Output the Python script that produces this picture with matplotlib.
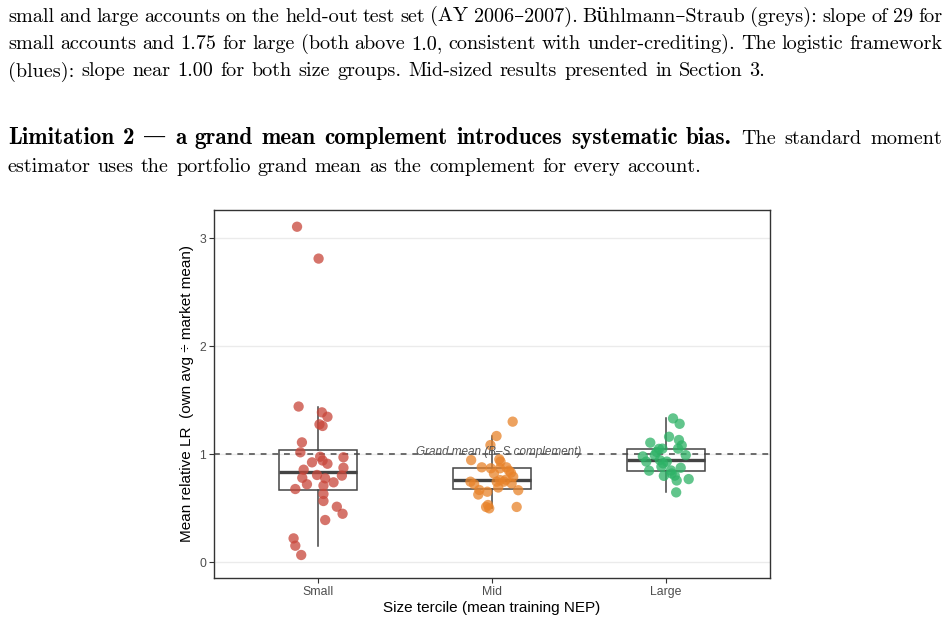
import matplotlib
matplotlib.use("Agg")
import numpy as np
import matplotlib.pyplot as plt
from matplotlib.transforms import IdentityTransform

W, H = 949, 625

# --- data ----------------------------------------------------------------
groups = ["Small", "Mid", "Large"]

small_lr = [1.44, 1.386, 1.345, 1.275, 1.26, 1.108, 1.016, 0.975, 0.97, 0.94,
            0.923, 0.91, 0.873, 0.855, 0.806, 0.80, 0.78, 0.775, 0.738, 0.72,
            0.707, 0.676, 0.63, 0.565, 0.512, 0.447, 0.389, 0.219, 0.151, 0.065,
            3.105, 2.81]
small_jit = [-0.113, 0.021, 0.053, 0.007, 0.025, -0.094, -0.103, 0.011, 0.145, 0.025,
             -0.036, 0.053, 0.145, -0.084, -0.007, 0.136, -0.092, 0.040, 0.088, -0.065,
             0.030, -0.132, 0.030, 0.030, 0.107, 0.140, 0.040, -0.142, -0.132, -0.098,
             -0.122, 0.002]

mid_lr = [1.30, 1.167, 1.083, 0.944, 0.951, 0.93, 0.877, 0.868, 0.868, 0.877,
          0.846, 0.82, 0.827, 0.744, 0.722, 0.744, 0.759, 0.762, 0.79, 0.728,
          0.69, 0.744, 0.665, 0.667, 0.651, 0.625, 0.528, 0.497, 0.51, 0.51]
mid_jit = [0.119, 0.026, -0.009, -0.120, 0.042, 0.049, -0.059, -0.007, 0.046, 0.083,
           0.098, 0.011, 0.109, -0.124, -0.103, 0.027, 0.046, 0.080, 0.122, 0.113,
           0.036, 0.069, 0.151, -0.073, -0.027, -0.079, -0.023, -0.016, -0.034, 0.142]

large_lr = [1.33, 1.28, 1.16, 1.105, 1.13, 1.05, 1.08, 1.048, 1.05, 1.02,
            0.99, 0.978, 0.99, 0.944, 0.93, 0.914, 0.883, 0.873, 0.846, 0.848,
            0.798, 0.80, 0.755, 0.768, 0.645, 0.93, 0.82]
large_jit = [0.042, 0.080, 0.019, -0.089, 0.076, 0.071, 0.092, -0.039, -0.019, -0.053,
             0.115, -0.132, -0.063, -0.034, -0.112, -0.016, -0.025, 0.086, -0.096, 0.030,
             -0.011, 0.052, 0.063, 0.132, 0.060, 0.006, 0.034]

grand_mean = 1.0
point_colors = ["#C8463A", "#E8832A", "#2DB266"]

para1 = [
    "small and large accounts on the held-out test set (AY 2006–2007). Bühlmann–Straub (greys): slope of 29 for",
    "small accounts and 1.75 for large (both above 1.0, consistent with under-crediting). The logistic framework",
    "(blues): slope near 1.00 for both size groups. Mid-sized results presented in Section 3.",
]
para2_bold = "Limitation 2 — a grand mean complement introduces systematic bias."
para2_rest = ["The standard moment",
              "estimator uses the portfolio grand mean as the complement for every account."]

SERIF = ["cmr10", "DejaVu Serif"]
SERIF_B = ["cmb10", "DejaVu Serif"]
SANS = ["Liberation Sans", "DejaVu Sans"]

fig = plt.figure(figsize=(W / 100, H / 100), dpi=100)
renderer = fig.canvas.get_renderer()


def make_words(fig, words, size):
    # words: list of (text, bold, size or None)
    arts = []
    for w, bold, sz in words:
        t = fig.text(0, 0, w, fontsize=sz or size, family=SERIF_B if bold else SERIF,
                     transform=IdentityTransform(), ha="left", va="baseline")
        arts.append(t)
    return arts


def space_px(size):
    return size * 0.333 * 100 / 72


def draw_line(fig, words, y, size, x0=8, x1=942, justify=True):
    arts = make_words(fig, words, size)
    widths = [t.get_window_extent(renderer).width for t in arts]
    if justify and len(arts) > 1:
        gap = (x1 - x0 - sum(widths)) / (len(arts) - 1)
    else:
        gap = space_px(size) * 1.05
    x = x0
    for t, wd in zip(arts, widths):
        t.set_position((x, H - y))
        x += wd + gap


def natural_width(words, size):
    probe = make_words(fig, words, size)
    w = sum(t.get_window_extent(renderer).width for t in probe)
    for t in probe:
        t.remove()
    return w


def plain(s, bold=False, size=None):
    return [(w, bold, size) for w in s.split()]


# pick a font size so the first full line fits with normal spacing
n_gaps = len(para1[0].split()) - 1
fs = 10 * (934 - n_gaps * space_px(10) * 1.08) / natural_width(plain(para1[0]), 10)

# the bold run is set wider in the original (bold extended face)
nb = len(para2_bold.split())
fs_b = fs * (712 - (nb - 1) * space_px(fs) * 1.1) / natural_width(plain(para2_bold, True, fs), fs)

draw_line(fig, plain(para1[0]), 21.5, fs)
draw_line(fig, plain(para1[1]), 49, fs)
draw_line(fig, plain(para1[2]), 76.5, fs, justify=False)
draw_line(fig, plain(para2_bold, True, fs_b) + plain(para2_rest[0]), 144, fs)
draw_line(fig, plain(para2_rest[1]), 171.5, fs, justify=False)

# --- chart -----------------------------------------------------------------
ax = fig.add_axes([214 / W, 47 / H, 556 / W, 368 / H])

values = [small_lr, mid_lr, large_lr]
jitters = [small_jit, mid_jit, large_jit]
pos = np.arange(len(groups))

for yv in [0, 1, 2, 3]:
    ax.axhline(yv, color="#EBEBEB", lw=1.0, zorder=0)

ax.axhline(grand_mean, color="#555555", lw=1.2, dashes=(3.5, 3.5), zorder=1)

ax.boxplot(values, positions=pos, widths=0.45, showfliers=False, whis=1.5,
           patch_artist=True,
           boxprops=dict(facecolor="none", edgecolor="#444444", linewidth=1.1),
           medianprops=dict(color="#444444", linewidth=2.4),
           whiskerprops=dict(color="#444444", linewidth=1.1),
           capprops=dict(linewidth=0), zorder=2)

for i, (v, j) in enumerate(zip(values, jitters)):
    ax.scatter(pos[i] + np.array(j), v, s=55, color=point_colors[i], alpha=0.75,
               edgecolors="none", zorder=3)

ax.text(1.04, grand_mean + 0.02, "Grand mean (B–S complement)", family=SANS,
        style="italic", fontsize=8.5, color="#555555", ha="center", va="center",
        zorder=4)

ax.set_xlim(-0.6, 2.6)
ax.set_ylim(-0.148, 3.26)
ax.set_xticks(pos)
ax.set_xticklabels(groups)
ax.set_yticks([0, 1, 2, 3])
ax.tick_params(colors="#333333", labelcolor="#4D4D4D", labelsize=8.8,
               length=3.8, width=0.8, pad=2)
for lab in ax.get_xticklabels() + ax.get_yticklabels():
    lab.set_family(SANS)
for sp in ax.spines.values():
    sp.set_color("#333333")
    sp.set_linewidth(1.0)

ax.set_xlabel("Size tercile (mean training NEP)", family=SANS, fontsize=11,
              labelpad=2)
ax.set_ylabel("Mean relative LR  (own avg ÷ market mean)", family=SANS,
              fontsize=11, labelpad=4)

fig.savefig("out.png", dpi=100)
